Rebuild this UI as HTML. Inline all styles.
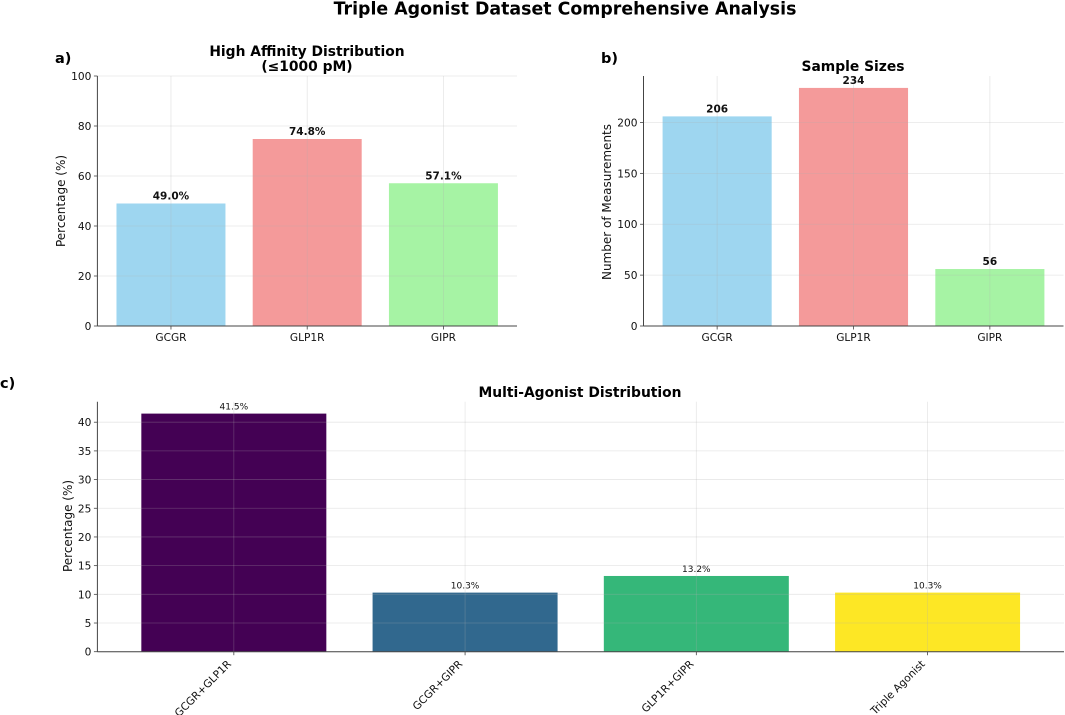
<!DOCTYPE html>
<html lang="en">
<head>
<meta charset="utf-8">
<title>Triple Agonist Dataset Comprehensive Analysis</title>
<style>
html,body{margin:0;padding:0;background:#fff;width:1065px;height:715px;overflow:hidden}
svg{display:block;filter:blur(0.3px)}
text{font-family:"DejaVu Sans","Liberation Sans",sans-serif;fill:#111}
.b{font-weight:700;fill:#000}
</style>
</head>
<body>
<svg id="fig" xmlns="http://www.w3.org/2000/svg" width="1065" height="715" viewBox="0 0 1065 715">
<rect x="0" y="0" width="1065" height="715" fill="#fff"/>
<text class="b" x="565" y="14.5" font-size="17.36" text-anchor="middle">Triple Agonist Dataset Comprehensive Analysis</text>
<text class="b" x="55" y="63" font-size="14.5">a)</text>
<text class="b" x="601" y="63" font-size="14.5">b)</text>
<text class="b" x="0" y="388" font-size="14.5">c)</text>
<text class="b" x="307" y="56" font-size="13.85">High Affinity Distribution</text>
<text class="b" x="307" y="71" font-size="13.85">(≤1000 pM)</text>
<text class="b" x="853" y="71" font-size="13.85">Sample Sizes</text>
<text class="b" x="580" y="397" font-size="13.85">Multi-Agonist Distribution</text>
<g id="a"></g>
<g id="b"></g>
<g id="c"></g>
</svg>
<script>
var receptors = ['GCGR', 'GLP1R', 'GIPR'];
var affinityValues = [49.0, 74.8, 57.1];
var affinityLabels = ['49.0%', '74.8%', '57.1%'];
var affinityTicks = [0, 20, 40, 60, 80, 100];
var sampleValues = [206, 234, 56];
var sampleLabels = ['206', '234', '56'];
var sampleTicks = [0, 50, 100, 150, 200];
var comboCategories = ['GCGR+GLP1R', 'GCGR+GIPR', 'GLP1R+GIPR', 'Triple Agonist'];
var comboValues = [41.5, 10.3, 13.2, 10.3];
var comboLabels = ['41.5%', '10.3%', '13.2%', '10.3%'];
var comboTicks = [0, 5, 10, 15, 20, 25, 30, 35, 40];
var receptorColors = ['#9ed6f0', '#f49a9a', '#a6f3a4'];
var comboColors = ['#440154', '#31688e', '#35b779', '#fde725'];

var NS = 'http://www.w3.org/2000/svg';
function mk(parent, tag, attrs, txt) {
  var el = document.createElementNS(NS, tag);
  for (var k in attrs) el.setAttribute(k, attrs[k]);
  if (txt !== undefined) el.textContent = txt;
  parent.appendChild(el);
  return el;
}
function chart(id, box, cats, vals, labels, ticks, colors, yMax, o) {
  var g = document.getElementById(id);
  var n = cats.length, margin = 0.05 * (n - 1 + 0.8);
  var lo = -0.4 - margin, hi = n - 1 + 0.4 + margin;
  function sx(v) { return box.l + (v - lo) / (hi - lo) * (box.r - box.l); }
  function sy(v) { return box.b - v / yMax * (box.b - box.t); }
  var unit = sx(1) - sx(0), el;
  cats.forEach(function (c, i) {
    el = mk(g, 'rect', {x: sx(i - 0.4), y: sy(vals[i]), width: 0.8 * unit, height: box.b - sy(vals[i]), fill: colors[i]});
    
    
  });
  ticks.forEach(function (t) {
    el = mk(g, 'line', {x1: box.l, x2: box.r, y1: sy(t), y2: sy(t), stroke: '#b0b0b0', 'stroke-opacity': 0.3, 'stroke-width': 0.8});
    
    
    el = mk(g, 'line', {x1: box.l - 3.5, x2: box.l, y1: sy(t), y2: sy(t), stroke: '#444', 'stroke-width': 0.8});
    
    
    el = mk(g, 'text', {x: box.l - 6, y: sy(t) + 4, 'font-size': 10.6, 'text-anchor': 'end'}, String(t));
    
    
  });
  cats.forEach(function (c, i) {
    var x = sx(i), slug = c.toLowerCase().replace(/[^a-z0-9]+/g, '-');
    el = mk(g, 'line', {x1: x, x2: x, y1: box.t, y2: box.b, stroke: '#b0b0b0', 'stroke-opacity': 0.3, 'stroke-width': 0.8});
    
    
    el = mk(g, 'line', {x1: x, x2: x, y1: box.b, y2: box.b + 3.5, stroke: '#444', 'stroke-width': 0.8});
    
    
    if (o.rotate) {
      el = mk(g, 'text', {x: x - 2, y: box.b + 13, 'font-size': 10.6, 'text-anchor': 'end', transform: 'rotate(-45 ' + (x - 2) + ' ' + (box.b + 13) + ')'}, c);
    } else {
      el = mk(g, 'text', {x: x, y: box.b + 15, 'font-size': 10.6, 'text-anchor': 'middle'}, c);
    }
    
    
    el = mk(g, 'text', {x: x, y: sy(vals[i]) - 4, 'font-size': o.valueSize, 'font-weight': o.valueWeight, 'text-anchor': 'middle'}, labels[i]);
    
    
  });
  el = mk(g, 'line', {x1: box.l, x2: box.l, y1: box.t, y2: box.b, stroke: '#444', 'stroke-width': 1});
  
  
  el = mk(g, 'line', {x1: box.l, x2: box.r, y1: box.b, y2: box.b, stroke: '#444', 'stroke-width': 1});
  
  
  el = mk(g, 'text', {x: o.ylabelX, y: o.ylabelY, 'font-size': 12, 'text-anchor': 'middle', transform: 'rotate(-90 ' + o.ylabelX + ' ' + o.ylabelY + ')'}, o.ylabel);
  
  
}
document.querySelectorAll('text[x="307"],text[x="853"],text[x="580"]').forEach(function (t) {
  t.setAttribute('text-anchor', 'middle');
});
chart('a', {l: 97.4, r: 517, t: 76, b: 326}, receptors, affinityValues, affinityLabels, affinityTicks, receptorColors, 100,
  {valueSize: 10.5, valueWeight: 700, ylabel: 'Percentage (%)', ylabelX: 65, ylabelY: 201});
chart('b', {l: 643.5, r: 1063.5, t: 76, b: 326}, receptors, sampleValues, sampleLabels, sampleTicks, receptorColors, 245.7,
  {valueSize: 10.5, valueWeight: 700, ylabel: 'Number of Measurements', ylabelX: 611, ylabelY: 202});
chart('c', {l: 97.4, r: 1064, t: 401.7, b: 651.7}, comboCategories, comboValues, comboLabels, comboTicks, comboColors, 43.575,
  {valueSize: 9, valueWeight: 400, rotate: true, ylabel: 'Percentage (%)', ylabelX: 72, ylabelY: 526});
</script>
</body>
</html>
